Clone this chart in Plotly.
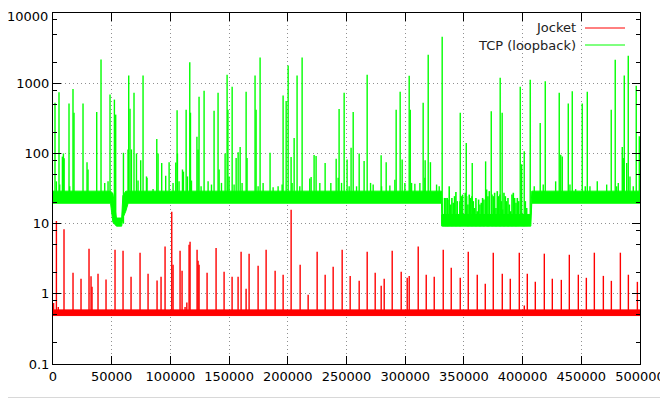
import plotly.graph_objects as go

# ---------------- data ----------------
# Green (TCP loopback) dense base band: breakpoints of lower / upper envelope
green_band_x = [0, 49000, 51000, 54000, 58500, 59500, 62000, 64000,
                331000, 331600, 407000, 407800, 500000]
green_band_lo = [19.5, 19.5, 10.5, 9.2, 9.2, 12, 15, 19.5,
                 19.5, 9.2, 9.2, 19.5, 19.5]
green_band_hi = [29, 29, 27, 12, 12, 25, 29, 29,
                 29, 13.5, 13.5, 29, 29]

# Green spikes (x, peak latency)
green_spike_x = [1700, 2900, 5110, 5710, 8000, 8860, 9500, 13640, 14230, 17040, 17900,
                 25570, 28980, 29830, 37240, 40900, 44060, 46870, 48570, 52300, 53400,
                 60000, 63900, 64500, 65600, 66810, 69000, 71100, 72440, 74700, 76700,
                 79600, 80100, 85220, 88400, 89500, 92600, 96000, 98900, 102270, 104570,
                 105700, 106000, 107380, 110280, 111100, 113400, 114540, 116500, 117100,
                 117950, 122600, 123570, 124400, 126140, 128700, 132100, 134990, 137200,
                 140600, 141500, 143510, 146600, 148300, 149000, 149990, 152600, 154250,
                 156000, 157700, 159400, 161060, 164500, 165300, 172100, 173000, 174700,
                 176400, 178960, 184900, 187480, 191750, 195150, 196000, 198600, 200300,
                 202800, 203680, 205400, 207900, 210240, 212200, 218700, 219870, 222400,
                 224100, 227280, 231800, 236660, 241200, 242880, 243700, 245780, 248000,
                 250500, 252260, 253900, 255700, 258570, 260800, 265000, 267600, 270500,
                 272710, 279500, 279870, 283800, 286940, 291200, 292300, 295700, 297400,
                 299720, 303400, 304300, 305430, 308240, 312500, 315300, 316760, 317000,
                 319600, 321500, 326730, 328950, 331500,
                 346900, 352000, 357100, 368500, 373300, 380900, 382600, 398000, 399200,
                 401400, 406500, 409920, 415000, 417580, 419300, 428150, 431200, 432500,
                 433800, 438900, 440340, 442300, 445190, 450800, 453380, 455100, 457370,
                 463600, 471610, 475500, 478900, 480130, 481500, 484900, 485760, 486600,
                 488650, 490000, 491460, 494270, 496800, 499400]
green_spike_y = [526, 40, 745, 36, 90, 100, 85, 513, 34, 830, 379,
                 513, 75, 59, 390, 2170, 38, 40, 690, 584, 357,
                 102, 114, 1290, 432, 114, 730, 100, 41, 80, 1290,
                 47, 45, 31, 161, 100, 73, 48, 75, 38, 74,
                 412, 100, 40, 59, 55, 420, 47, 1990, 380,
                 41, 172, 114, 640, 34, 780, 40, 36, 405,
                 730, 59, 38, 100, 1320, 420, 47, 890, 36,
                 86, 104, 123, 38, 755, 86, 1290, 420, 34,
                 2320, 38, 102, 33, 34, 36, 670, 560, 1790,
                 89, 38, 166, 1290, 34, 2320, 44, 46, 95,
                 92, 38, 73, 38, 84, 45, 430, 38, 730,
                 82, 34, 120, 390, 34, 100, 78, 1320, 38,
                 36, 94, 34, 75, 35, 42, 420, 755, 82,
                 38, 1280, 420, 38, 37, 38, 525, 45, 80,
                 2540, 75, 36, 34, 4570,
                 380, 141, 73, 77, 400, 1200, 380, 890, 70,
                 107, 1120, 34, 272, 36, 1070, 40, 730, 96,
                 90, 513, 36, 770, 31, 513, 34, 755, 34,
                 40, 36, 420, 2150, 34, 38, 123, 86, 1290,
                 73, 2460, 47, 34, 920, 176]

# Green tips inside the noisy 331k-407k stretch
green_tip_x = [331250, 332390, 333520, 334660, 335800, 336370, 337500, 338640, 339780,
               340920, 342050, 343190, 344330, 345460, 346600, 347740, 348880, 351150,
               352290, 353420, 354560, 355700, 356840, 357970, 359110, 360250, 361380,
               362520, 363660, 364800, 365930, 367070, 369340, 370480, 371620, 373890,
               375030, 376170, 377300, 378440, 379580, 380710, 381850, 382990, 384130,
               385260, 386400, 387540, 388670, 389810, 390950, 392090, 393220, 394360,
               395500, 396640, 398910, 400050, 401180, 402320, 403460]
green_tip_y = [13.5, 13.5, 23.2, 23.2, 23.2, 22, 34, 18.7, 23.2,
               19.8, 24.6, 28.3, 20.9, 13.5, 20.9, 24.6, 25.9, 27.5,
               24.6, 18.7, 25.9, 23.2, 24.6, 20.9, 16.7, 23.2, 15,
               22, 18.7, 19.8, 23.2, 22, 30.6, 24.6, 29, 25.9,
               24.6, 27.5, 16.7, 29, 24.6, 25.9, 20.9, 15.9, 27.5,
               24.6, 20.9, 23.2, 18.7, 15, 25.9, 27.5, 23.2, 19.8,
               23.2, 20.9, 15, 13.5, 12.1, 20.9, 16.7]

# Red (Jocket) base band and spikes
red_band_x = [0, 500000]
red_band_lo = [0.49, 0.49]
red_band_hi = [0.59, 0.59]

red_spike_x = [500, 2900, 4500, 9375, 17050, 23870, 30680, 32390, 33240, 38350, 45170,
               52840, 59660, 66480, 74150, 80970, 88640, 92040, 95450, 101150, 102270,
               108230, 109930, 112500, 114000, 115900, 116750, 122720, 123570, 124420,
               131240, 138910, 145730, 152550, 157660, 160220, 164480, 167040, 174710,
               181530, 189200, 196020, 202840, 210510, 217330, 225000, 231820, 238640,
               246310, 253130, 260800, 267620, 274440, 279550, 282110, 288930, 296600,
               301720, 303420, 311090, 317910, 324730, 332400, 339220, 346890, 353710,
               361380, 368200, 375020, 382690, 389510, 397180, 401440, 404000, 410820,
               418490, 425310, 432980, 439800, 447470, 454290, 461110, 468780, 475600,
               483270, 490090, 497760]
red_spike_y = [0.74, 10.9, 0.65, 8.3, 2.0, 1.64, 4.4, 1.78, 1.26, 1.93, 1.6,
               4.25, 4.1, 1.75, 3.85, 1.93, 1.55, 1.75, 4.7, 14.8, 2.6,
               4.1, 2.13, 0.65, 0.75, 5.0, 5.5, 4.25, 2.96, 2.6,
               2.0, 4.5, 2.06, 1.75, 1.75, 3.97, 1.18, 3.73, 2.51,
               4.25, 2.13, 1.87, 15.8, 2.6, 0.97, 3.97, 1.87, 2.43,
               4.25, 1.8, 1.53, 3.97, 2.0, 1.3, 1.64, 4.1, 2.06,
               1.69, 1.8, 4.7, 1.87, 1.75, 4.25, 2.35, 1.69, 3.97,
               1.87, 1.39, 3.85, 1.93, 1.64, 3.85, 0.68, 1.93, 1.48,
               3.73, 1.64, 1.58, 3.6, 1.87, 1.69, 3.85, 1.8, 1.53,
               3.85, 1.87, 1.48]

x_tickvals = [0, 50000, 100000, 150000, 200000, 250000, 300000, 350000, 400000, 450000, 500000]
y_tickvals = [0.1, 1, 10, 100, 1000, 10000]
y_ticktext = ["0.1", "1", "10", "100", "1000", "10000"]
y_minorvals = [0.2, 0.5, 0.8, 2, 5, 8, 20, 50, 80, 200, 500, 800, 2000, 5000, 8000]

series_names = ["Jocket", "TCP (loopback)"]

# ---------------- styles ----------------
GREEN = "#00ff00"
RED = "#ff0000"
FONT = "DejaVu Sans"


def segments(xs, ys, base_fn):
    sx, sy = [], []
    for x, y in zip(xs, ys):
        sx += [x, x, None]
        sy += [base_fn(x), y, None]
    return sx, sy


def green_base(x):
    if 50500 <= x <= 62000 or 331000 <= x <= 407500:
        return 10
    return 22


fig = go.Figure()

# green band
fig.add_trace(go.Scatter(x=green_band_x, y=green_band_lo, mode="lines",
                         line=dict(color=GREEN, width=1), showlegend=False,
                         hoverinfo="skip"))
fig.add_trace(go.Scatter(x=green_band_x, y=green_band_hi, mode="lines",
                         line=dict(color=GREEN, width=1), fill="tonexty",
                         fillcolor=GREEN, showlegend=False, hoverinfo="skip"))
gx, gy = segments(green_spike_x, green_spike_y, green_base)
fig.add_trace(go.Scatter(x=gx, y=gy, mode="lines", line=dict(color=GREEN, width=1.4),
                         name=series_names[1], showlegend=False))
tx, ty = segments(green_tip_x, green_tip_y, lambda x: 9.2)
fig.add_trace(go.Scatter(x=tx, y=ty, mode="lines", line=dict(color=GREEN, width=1.6),
                         showlegend=False, hoverinfo="skip"))

# red band
fig.add_trace(go.Scatter(x=red_band_x, y=red_band_lo, mode="lines",
                         line=dict(color=RED, width=1), showlegend=False,
                         hoverinfo="skip"))
fig.add_trace(go.Scatter(x=red_band_x, y=red_band_hi, mode="lines",
                         line=dict(color=RED, width=1), fill="tonexty",
                         fillcolor=RED, showlegend=False, hoverinfo="skip"))
rx, ry = segments(red_spike_x, red_spike_y, lambda x: 0.55)
fig.add_trace(go.Scatter(x=rx, y=ry, mode="lines", line=dict(color=RED, width=1.4),
                         name=series_names[0], showlegend=False))

axis_common = dict(
    showline=True, linecolor="black", linewidth=1, mirror="ticks",
    ticks="inside", ticklen=8, tickwidth=1, tickcolor="black",
    showgrid=True, gridcolor="#909090", griddash="1px,3px", gridwidth=1,
    zeroline=False, automargin=False, ticklabeloverflow="allow",
    tickfont=dict(family=FONT, size=13, color="black"),
)

# the top label would be clipped at the figure edge: it is drawn separately below
y_ticktext_axis = [t if v != max(y_tickvals) else "" for v, t in zip(y_tickvals, y_ticktext)]

fig.update_xaxes(range=[0, 500000], tickmode="array", tickvals=x_tickvals,
                 ticktext=[str(v) for v in x_tickvals], **axis_common)
fig.update_yaxes(type="log", range=[-1, 4], tickmode="array", tickvals=y_tickvals,
                 ticktext=y_ticktext_axis,
                 minor=dict(tickmode="array", tickvals=y_minorvals, ticks="inside",
                            ticklen=4, tickcolor="black", showgrid=False),
                 **axis_common)

# (window pixel -> paper coordinates; plot area spans x 53..640, y 13..364)
def px_x(p):
    return (p - 53) / 587.0


def px_y(p):
    return (364 - p) / 351.0


fig.add_annotation(x=px_x(49), y=1, xref="paper", yref="paper",
                   text=y_ticktext[-1], showarrow=False, xanchor="right",
                   yanchor="top", yshift=5, borderpad=0,
                   font=dict(family=FONT, size=13, color="black"))

# gnuplot-style key: text on the left, sample line on the right
for i, (name, col) in enumerate(zip(series_names, [RED, GREEN])):
    yy = 28 + 17 * i
    fig.add_annotation(x=px_x(578), y=px_y(yy), xref="paper", yref="paper",
                       text=name, showarrow=False, xanchor="right", yanchor="middle",
                       font=dict(family=FONT, size=13, color="#222222"))
    fig.add_shape(type="line", xref="paper", yref="paper",
                  x0=px_x(585), x1=px_x(625), y0=px_y(yy), y1=px_y(yy),
                  line=dict(color=col, width=1))

# screenshot frame remnants at right / bottom edge
fig.add_shape(type="line", xref="paper", yref="paper", x0=px_x(664.5), x1=px_x(664.5),
              y0=px_y(8), y1=px_y(399), line=dict(color="#c8c8c8", width=2))
fig.add_shape(type="rect", xref="paper", yref="paper", x0=px_x(666), x1=px_x(670),
              y0=px_y(190), y1=px_y(400), line=dict(width=0), fillcolor="#c8a070")
fig.add_shape(type="line", xref="paper", yref="paper", x0=px_x(8), x1=px_x(664),
              y0=px_y(397.5), y1=px_y(397.5), line=dict(color="#d8d8d8", width=1))

# the page places the figure 8px from the top-left corner; size and margins
# compensate so the plot area lands where the reference has it
fig.update_layout(width=660, height=391, margin=dict(l=45, r=28, t=5, b=35),
                  paper_bgcolor="white", plot_bgcolor="white",
                  font=dict(family=FONT, size=13, color="black"),
                  showlegend=False)

fig.write_html("out.html")
